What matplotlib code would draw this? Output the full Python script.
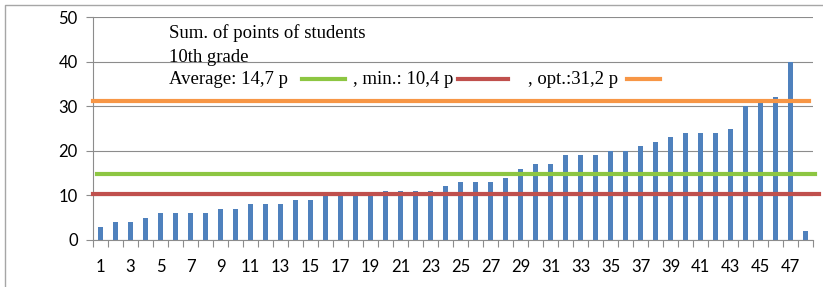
"""
Sum of points of 10th grade students, with average / min / optimum lines.
"""

import matplotlib.pyplot as plt
from matplotlib.lines import Line2D

# data
students = list(range(1, 49))
points = [3, 4, 4, 5, 6, 6, 6, 6, 7, 7, 8, 8, 8, 9, 9,
          10, 10, 10, 10, 11, 11, 11, 11, 12, 13, 13, 13, 14, 16, 17, 17,
          19, 19, 19, 20, 20, 21, 22, 23, 24, 24, 24, 25, 30, 31, 32, 40, 2]
average = 14.7
minimum = 10.4
optimum = 31.2
title_lines = ["Sum. of points of students", "10th grade"]
label_avg = "Average: 14,7 p"
label_min = ", min.: 10,4 p"
label_opt = ", opt.:31,2 p"

blue = '#4F81BD'
green = '#8DC642'
red = '#C0504D'
orange = '#F79646'
grid = '#8C8C8C'

W, H = 823, 287
fig = plt.figure(figsize=(W / 100, H / 100), dpi=100)
ax = fig.add_axes([93 / W, 1 - 240 / H, 720 / W, 223 / H])

ax.bar(students, points, width=0.38, color=blue, zorder=2)

ax.axhline(average, xmin=0.005, xmax=1.003, color=green, lw=3, zorder=3,
           clip_on=False)
ax.axhline(minimum, xmin=0.0, xmax=1.008, color=red, lw=3, zorder=3,
           clip_on=False)
ax.axhline(optimum, xmin=0.0, xmax=0.994, color=orange, lw=3, zorder=3,
           clip_on=False)

ax.set_xlim(0.5, 48.5)
ax.set_ylim(0, 50)
ax.set_yticks(range(0, 51, 10))
ax.yaxis.grid(True, color=grid, lw=0.8, zorder=0)

# category boundary ticks, labels on odd categories
ax.set_xticks([i + 0.5 for i in range(0, 49)])
ax.set_xticklabels([])
ax.set_xticks(students[::2], minor=True)
ax.set_xticklabels([str(s) for s in students[::2]], minor=True,
                   family='Lato', fontsize=12)
ax.tick_params(axis='x', which='major', length=5, color=grid, direction='out')
ax.tick_params(axis='x', which='minor', length=0, pad=14)
ax.tick_params(axis='y', length=5, color=grid, pad=6, labelsize=12)
for lab in ax.get_yticklabels():
    lab.set_family('Lato')

for side in ['top', 'right']:
    ax.spines[side].set_visible(False)
for side in ['left', 'bottom']:
    ax.spines[side].set_color(grid)

# title and hand-made legend
serif = 'Liberation Serif'
fs = 13.5
fig.text(169 / W, 1 - 33 / H, title_lines[0], family=serif, fontsize=fs,
         va='center')
fig.text(169 / W, 1 - 57 / H, title_lines[1], family=serif, fontsize=fs,
         va='center')
fig.text(169 / W, 1 - 80 / H, label_avg, family=serif, fontsize=fs,
         va='center')
fig.text(353 / W, 1 - 80 / H, label_min, family=serif, fontsize=fs,
         va='center')
fig.text(528 / W, 1 - 80 / H, label_opt, family=serif, fontsize=fs,
         va='center')
for x0, x1, c in [(302, 345, green), (458, 508, red), (627, 660, orange)]:
    fig.add_artist(Line2D([x0 / W, x1 / W], [1 - 79 / H, 1 - 79 / H],
                          color=c, lw=3, transform=fig.transFigure))

# outer chart frame (left and top edges visible)
fig.add_artist(Line2D([5 / W, 5 / W, 1], [0, 1 - 5 / H, 1 - 5 / H],
                      color='#A6A6A6', lw=1, transform=fig.transFigure))

fig.savefig('out.png', dpi=100)
